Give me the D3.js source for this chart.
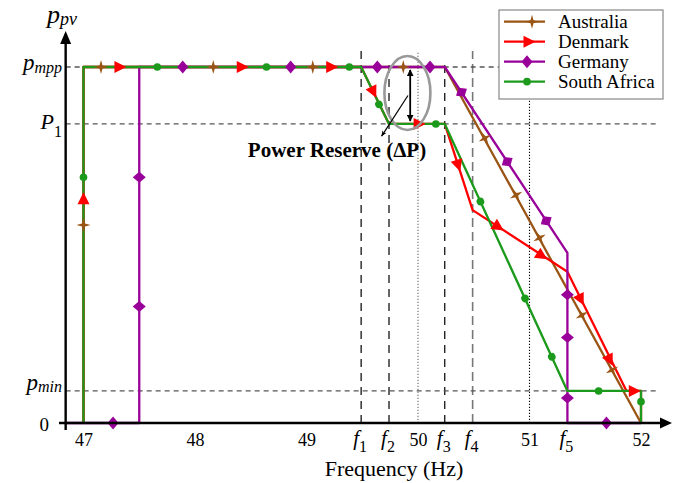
<!DOCTYPE html>
<html>
<head>
<meta charset="utf-8">
<script src="https://cdn.jsdelivr.net/npm/d3@7"></script>
<style>
body{margin:0;background:#fff;}
svg text{font-family:"Liberation Serif","Times New Roman",serif;fill:#000;}
</style>
</head>
<body>
<svg id="chart" width="686" height="483"></svg>
<script>
// characteristic frequencies (Hz) and power levels (p.u. of pmpp)
let f1 = 49.49, f2 = 49.74, f3 = 50.24, f4 = 50.49, f5 = 51.34;
let pmpp = 1, p1 = 0.84, pmin = 0.09;
let fMin = 46.84, fMax = 52.15;

let freqTicks = [47, 48, 49, 50, 51, 52];
let fTicks = [['1', f1], ['2', f2], ['3', f3], ['4', f4], ['5', f5]];
let refFreqs = [f1, f2, 50, f3, f4, 51];
let refPowers = [pmpp, p1, pmin];

let seriesNames = ['Australia', 'Denmark', 'Germany', 'South Africa'];
let seriesColors = ['#9a5414', '#ff0000', '#990099', '#1c9a1c'];
let seriesShapes = ['star', 'tri', 'diamond', 'circle'];

let australiaLine = [[47,0],[47,pmpp],[f3,pmpp],[52,0]];
let denmarkLine = [[47,0],[47,pmpp],[f1,pmpp],[f2,p1],[f3,p1],[f4,0.598],[f5,0.425],[51.87,pmin],[52,pmin],[52,0]];
let germanyLine = [[fMin,0],[47.5,0],[47.5,pmpp],[f3,pmpp],[f5,0.478],[f5,0],[52,0]];
let southAfricaLine = [[47,0],[47,pmpp],[f1,pmpp],[f2,p1],[f3,p1],[f5,pmin],[52,pmin],[52,0]];

let australiaMarks = [[47,0.556],[47.157,1],[48.164,1],[49.056,1],[49.868,1],[50.60,0.80],[50.88,0.64],[51.09,0.52],[51.47,0.303],[51.74,0.149]];
let denmarkMarks = [[47,0.63],[47.327,1],[48.424,1],[49.226,1],[49.6,0.93],[50.01,p1],[50.36,0.724],[50.72,0.551],[51.11,0.47],[51.46,0.347],[51.72,0.177],[51.94,pmin]];
let germanyMarks = [[47.265,0],[47.5,0.69],[47.5,0.327],[47.89,1],[48.858,1],[49.635,1],[50.108,1],[50.39,0.929],[50.80,0.734],[51.15,0.568],[f5,0.36],[f5,0.24],[f5,0.07],[51.69,0]];
let southAfricaMarks = [[47,0.69],[47.662,1],[48.641,1],[49.384,1],[49.65,0.895],[50.16,p1],[50.56,0.622],[50.96,0.35],[51.20,0.186],[51.62,pmin],[52,0.06]];

let seriesLines = [australiaLine, denmarkLine, germanyLine, southAfricaLine];
let seriesMarks = [australiaMarks, denmarkMarks, germanyMarks, southAfricaMarks];

// power reserve annotation (Hz, p.u.)
let reserveFreq = 49.93;
let ellipseCentre = [49.905, 0.927];
let leaderLine = [[49.91, 0.92], [49.674, 0.806]];

const svg = d3.select('#chart');
const x = d3.scaleLinear().domain([47, 52]).range([83.5, 641]);
const y = d3.scaleLinear().domain([0, 1]).range([423, 67]);
const x0 = x(fMin), y0 = y(0);

const defs = svg.append('defs');
defs.append('marker').attr('id', 'ah').attr('viewBox', '0 0 10 10')
    .attr('refX', 9).attr('refY', 5).attr('markerWidth', 7).attr('markerHeight', 7)
    .attr('markerUnits', 'userSpaceOnUse').attr('orient', 'auto-start-reverse')
    .append('path').attr('d', 'M0,0 L10,5 L0,10 Z').attr('fill', '#000');
defs.append('marker').attr('id', 'ahs').attr('viewBox', '0 0 10 10')
    .attr('refX', 9).attr('refY', 5).attr('markerWidth', 6).attr('markerHeight', 6)
    .attr('markerUnits', 'userSpaceOnUse').attr('orient', 'auto')
    .append('path').attr('d', 'M0,1 L10,5 L0,9 L3,5 Z').attr('fill', '#000');

// reference lines
let vStyle = [
    {dash: '8,6', col: '#000', top: 1.053, w: 1.2},
    {dash: '8,6', col: '#000', top: 1.02, w: 1.2},
    {dash: '1.2,1.8', col: '#777', top: 1.04, w: 1.2},
    {dash: '8,6', col: '#000', top: 1.02, w: 1.2},
    {dash: '9,5', col: '#777', top: 1.045, w: 1.6},
    {dash: '1.2,1.8', col: '#000', top: 1.05, w: 1.1}
];
svg.append('g').selectAll('line').data(refFreqs).join('line')
    .attr('x1', d => x(d)).attr('x2', d => x(d))
    .attr('y1', y0).attr('y2', (d, i) => y(vStyle[i].top))
    .attr('stroke', (d, i) => vStyle[i].col)
    .attr('stroke-width', (d, i) => vStyle[i].w)
    .attr('stroke-dasharray', (d, i) => vStyle[i].dash);
svg.append('g').selectAll('line').data(refPowers).join('line')
    .attr('x1', x0).attr('x2', x(fMax))
    .attr('y1', d => y(d)).attr('y2', d => y(d))
    .attr('stroke', '#555').attr('stroke-width', 1.3).attr('stroke-dasharray', '5,4');

// series lines
const line = d3.line().x(d => x(d[0])).y(d => y(d[1]));
svg.append('g').selectAll('path').data(seriesLines).join('path')
    .attr('d', line).attr('fill', 'none')
    .attr('stroke', (d, i) => seriesColors[i]).attr('stroke-width', 2.3)
    .attr('stroke-linejoin', 'round');

function shapePath(s){
    if (s == 'star') return 'M7,0 L1.5,1.5 L0,7 L-1.5,1.5 L-7,0 L-1.5,-1.5 L0,-7 L1.5,-1.5 Z';
    if (s == 'tri') return 'M6.5,0 L-5.5,6 L-5.5,-6 Z';
    if (s == 'diamond') return 'M5.5,0 L0,6.5 L-5.5,0 L0,-6.5 Z';
    return d3.symbol(d3.symbolCircle, 46)();
}
// direction of the segment nearest a marker, in screen space
function segAngle(pts, m){
    let best = 1e9, ang = 0;
    let mx = x(m[0]), my = y(m[1]);
    for (let k = 0; k < pts.length - 1; k++){
        let ax = x(pts[k][0]), ay = y(pts[k][1]), bx = x(pts[k+1][0]), by = y(pts[k+1][1]);
        let dx = bx - ax, dy = by - ay, l2 = dx*dx + dy*dy;
        if (l2 == 0) continue;
        let t = Math.max(0, Math.min(1, ((mx-ax)*dx + (my-ay)*dy) / l2));
        let ex = ax + t*dx - mx, ey = ay + t*dy - my, dd = ex*ex + ey*ey;
        if (dd < best - 0.01){ best = dd; ang = Math.atan2(dy, dx) * 180 / Math.PI; }
    }
    return ang;
}
seriesMarks.forEach((marks, i) => {
    svg.append('g').selectAll('path').data(marks).join('path')
        .attr('d', shapePath(seriesShapes[i]))
        .attr('transform', d => `translate(${x(d[0])},${y(d[1])}) rotate(${segAngle(seriesLines[i], d)})`)
        .attr('fill', seriesColors[i]);
});

// power reserve annotation
svg.append('ellipse')
    .attr('cx', x(ellipseCentre[0])).attr('cy', y(ellipseCentre[1]))
    .attr('rx', 23).attr('ry', 37)
    .attr('fill', 'none').attr('stroke', '#999').attr('stroke-width', 2.6);
svg.append('line')
    .attr('x1', x(reserveFreq)).attr('x2', x(reserveFreq))
    .attr('y1', y(pmpp) + 3).attr('y2', y(p1) - 3)
    .attr('stroke', '#000').attr('stroke-width', 1.8)
    .attr('marker-start', 'url(#ah)').attr('marker-end', 'url(#ah)');
svg.append('line')
    .attr('x1', x(leaderLine[0][0])).attr('y1', y(leaderLine[0][1]))
    .attr('x2', x(leaderLine[1][0])).attr('y2', y(leaderLine[1][1]))
    .attr('stroke', '#000').attr('stroke-width', 1.2)
    .attr('marker-end', 'url(#ahs)');
svg.append('text').attr('x', 337).attr('y', 157)
    .attr('text-anchor', 'middle').attr('font-weight', 'bold').attr('font-size', 21)
    .text('Power Reserve (\u0394P)');

// axes
const xAxis = d3.axisBottom(x).tickValues(freqTicks).tickSize(0).tickPadding(10).tickFormat(d3.format('d'));
const gx = svg.append('g').attr('transform', `translate(0,${y0})`).call(xAxis);
gx.select('.domain').remove();
gx.selectAll('text').attr('font-size', 18).attr('font-family', '"Liberation Serif",serif');

svg.append('line').attr('x1', 59).attr('x2', 662).attr('y1', y0).attr('y2', y0)
    .attr('stroke', '#000').attr('stroke-width', 2.4);
svg.append('path').attr('d', `M${672},${y0} L${660},${y0-5.5} L${660},${y0+5.5} Z`).attr('fill', '#000');
svg.append('line').attr('x1', x0).attr('x2', x0).attr('y1', y0 + 7).attr('y2', 42)
    .attr('stroke', '#000').attr('stroke-width', 2.4);
svg.append('path').attr('d', `M${x0},31 L${x0-5.5},44 L${x0+5.5},44 Z`).attr('fill', '#000');

// f-labels on the x axis
const fl = svg.append('g').selectAll('text').data(fTicks).join('text')
    .attr('x', d => x(d[1]) - 1).attr('y', y0 + 22)
    .attr('text-anchor', 'middle');
fl.append('tspan').attr('font-style', 'italic').attr('font-size', 21).text('f');
fl.append('tspan').attr('font-size', 16).attr('dy', 7).text(d => d[0]);

svg.append('text').attr('x', 394).attr('y', 476).attr('text-anchor', 'middle')
    .attr('font-size', 22).text('Frequency (Hz)');

// y-axis labels
function yLabel(main, sub, yy, mainSize, subSize, dy, italicSub){
    let t = svg.append('text').attr('x', 62).attr('y', yy).attr('text-anchor', 'end');
    t.append('tspan').attr('font-style', 'italic').attr('font-size', mainSize).text(main);
    t.append('tspan').attr('font-style', italicSub ? 'italic' : 'normal').attr('font-size', subSize).attr('dy', dy).text(sub);
}
yLabel('p', 'mpp', y(pmpp) + 3, 23, 16, 3, true);
yLabel('P', '1', y(p1) + 5, 22, 16, 8, false);
yLabel('p', 'min', y(pmin) - 1, 23, 16, 2, true);
svg.append('line').attr('x1', 59).attr('x2', x0).attr('y1', y0).attr('y2', y0).attr('stroke', '#000').attr('stroke-width', 2);
svg.append('text').attr('x', 49).attr('y', y0 + 8).attr('text-anchor', 'end').attr('font-size', 19).text('0');
let yt = svg.append('text').attr('x', 47).attr('y', 23);
yt.append('tspan').attr('font-style', 'italic').attr('font-size', 26).text('p');
yt.append('tspan').attr('font-style', 'italic').attr('font-size', 18).attr('dy', 2).text('pv');

// legend
const lg = svg.append('g');
lg.append('rect').attr('x', 499).attr('y', 10).attr('width', 164).attr('height', 89)
    .attr('fill', '#fff').attr('stroke', '#888').attr('stroke-width', 1.2);
let rowY = d3.scalePoint().domain(seriesNames).range([21.7, 81.7]);
let markX = [532, 529, 527, 527];
const rows = lg.selectAll('g').data(seriesNames).join('g')
    .attr('transform', d => `translate(0,${rowY(d)})`);
rows.append('line').attr('x1', 504).attr('x2', 545).attr('y1', 0).attr('y2', 0)
    .attr('stroke', (d, i) => seriesColors[i]).attr('stroke-width', 2.3);
rows.append('path').attr('d', (d, i) => shapePath(seriesShapes[i]))
    .attr('transform', (d, i) => `translate(${markX[i]},0)`)
    .attr('fill', (d, i) => seriesColors[i]);
rows.append('text').attr('x', 558).attr('y', 6).attr('font-size', 19).text(d => d);
</script>
</body>
</html>
